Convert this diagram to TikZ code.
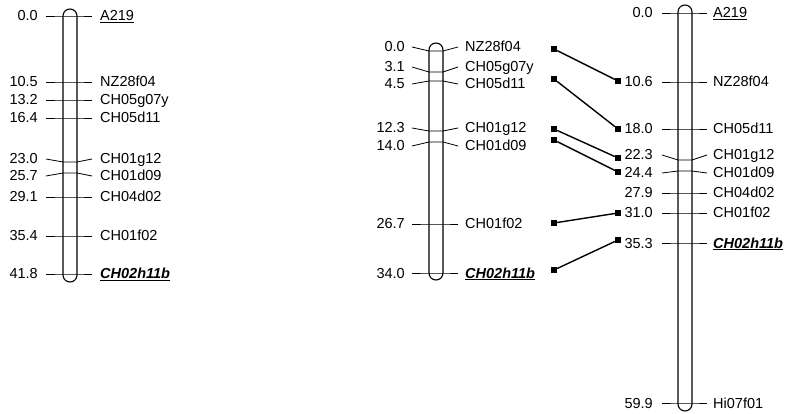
\documentclass[tikz,border=0pt]{standalone}
\usepackage{fontspec}
\setmainfont{Liberation Sans}
\usetikzlibrary{positioning,calc}

\begin{document}
\begin{tikzpicture}[x=1pt,y=-1pt,
  chrom/.style={draw,line width=1.1pt,rounded corners=7pt},
  tick/.style={line width=.8pt},
  cmlab/.style={anchor=east,inner sep=0pt,text height=10pt,text depth=0pt,font=\fontsize{14.5}{16}\selectfont},
  mklab/.style={anchor=west,inner sep=0pt,text height=10pt,text depth=0pt,font=\fontsize{14.5}{16}\selectfont},
  sq/.style={fill=black,inner sep=0pt,minimum size=6pt},
  link/.style={line width=1.4pt}]
\useasboundingbox (0,0) rectangle (790,414);
% linkage group 1
\draw[chrom] (63,9) rectangle (77,282);
\foreach \cm/\ly/\by/\mname [count=\i] in {0.0/16/16/\underline{A219},10.5/82/82/NZ28f04,13.2/100/100/CH05g07y,16.4/118/118/CH05d11,23.0/159/162/CH01g12,25.7/176/173/CH01d09,29.1/197/197/CH04d02,35.4/236/236/CH01f02,41.8/274/274/{\bfseries\itshape\underline{CH02h11b}}}{
  \node[cmlab] (aP\i) at (38,\ly) {\cm};
  \node[mklab] (aM\i) at (100,\ly) {\mname};
  \draw[tick] ([xshift=8pt]aP\i.east) -- (63,\by) -- (77,\by) -- ([xshift=-8pt]aM\i.west);
}
% linkage group 2
\draw[chrom] (429,43) rectangle (443,280);
\foreach \cm/\ly/\by/\mname [count=\i] in {0.0/47/51/NZ28f04,3.1/67/72/CH05g07y,4.5/84/81/CH05d11,12.3/128/131/CH01g12,14.0/146/142/CH01d09,26.7/224/224/CH01f02,34.0/273/273/{\bfseries\itshape\underline{CH02h11b}}}{
  \node[cmlab] (bP\i) at (405,\ly) {\cm};
  \node[mklab] (bM\i) at (465,\ly) {\mname};
  \draw[tick] ([xshift=7pt]bP\i.east) -- (429,\by) -- (443,\by) -- ([xshift=-7pt]bM\i.west);
}
% linkage group 3
\draw[chrom] (678,5) rectangle (692,411);
\foreach \cm/\ly/\by/\mname [count=\i] in {0.0/13/13/\underline{A219},10.6/82/82/NZ28f04,18.0/129/129/CH05d11,22.3/155/160/CH01g12,24.4/173/171/CH01d09,27.9/193/193/CH04d02,31.0/213/213/CH01f02,35.3/243/243/{\bfseries\itshape\underline{CH02h11b}},59.9/403/403/Hi07f01}{
  \node[cmlab] (cP\i) at (653,\ly) {\cm};
  \node[mklab] (cM\i) at (713,\ly) {\mname};
  \draw[tick] ([xshift=9pt]cP\i.east) -- (678,\by) -- (692,\by) -- ([xshift=-6pt]cM\i.west);
}
% shared markers
\foreach \ly/\ry [count=\i] in {49/81,79/129,129/158,140/172,223/213,270/240}{
  \node[sq] (sqL\i) at (554,\ly) {};
  \node[sq] (sqR\i) at (618,\ry) {};
  \draw[link] (sqL\i) -- (sqR\i);
}
\end{tikzpicture}
\end{document}
